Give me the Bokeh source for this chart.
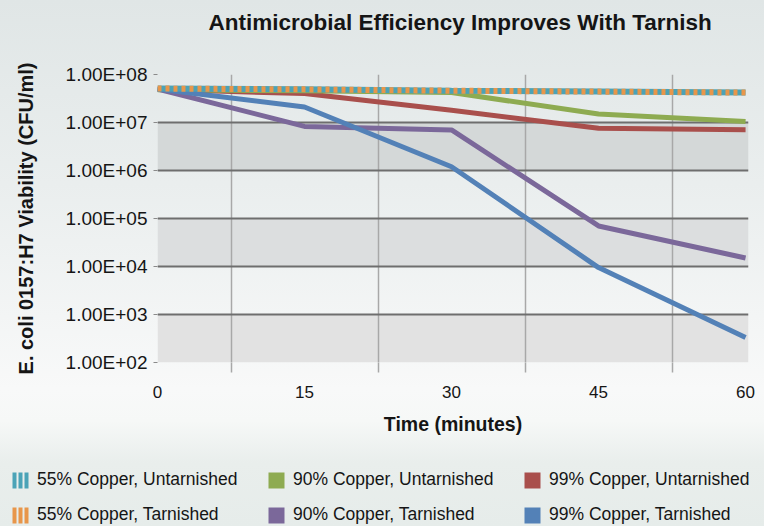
from bokeh.plotting import figure
from bokeh.layouts import column
from bokeh.models import (Range1d, FixedTicker, BoxAnnotation, Legend, LegendItem,
                          InlineStyleSheet)
from bokeh.embed import file_html
from bokeh.resources import INLINE

# ---------------- data ----------------
time_min = [0, 15, 30, 45, 60]
x_grid_positions = [7.5, 22.5, 37.5, 52.5]
y_ticks = [1e2, 1e3, 1e4, 1e5, 1e6, 1e7, 1e8]
y_tick_labels = ["1.00E+02", "1.00E+03", "1.00E+04", "1.00E+05",
                 "1.00E+06", "1.00E+07", "1.00E+08"]

cu55_untarnished = [5.1e7, 4.9e7, 4.6e7, 4.4e7, 4.2e7]
cu55_tarnished = [5.1e7, 4.9e7, 4.6e7, 4.4e7, 4.2e7]
cu90_untarnished = [4.8e7, 4.6e7, 4.2e7, 1.5e7, 1.05e7]
cu99_untarnished = [4.9e7, 4.0e7, 1.8e7, 7.6e6, 7.1e6]
cu90_tarnished = [5.0e7, 8.3e6, 7.0e6, 7.0e4, 1.5e4]
cu99_tarnished = [5.0e7, 2.1e7, 1.2e6, 9.5e3, 3.3e2]

labels = {
    "55u": "55% Copper, Untarnished",
    "90u": "90% Copper, Untarnished",
    "99u": "99% Copper, Untarnished",
    "55t": "55% Copper, Tarnished",
    "90t": "90% Copper, Tarnished",
    "99t": "99% Copper, Tarnished",
}
title_text = "Antimicrobial Efficiency Improves With Tarnish"

# ---------------- style ----------------
TEAL = "#4ba3b7"
ORANGE = "#e8964a"
GREEN = "#8eab51"
RED = "#a94f4c"
PURPLE = "#7b689a"
BLUE = "#5381b7"
FONT = "Liberation Sans"
TEXT = "#151515"

def bare(fig):
    fig.frame_align = False
    fig.background_fill_color = None
    fig.border_fill_color = None
    fig.outline_line_color = None
    return fig

# ---------------- title strip ----------------
tf = bare(figure(width=764, height=40, x_range=Range1d(0, 1), y_range=Range1d(0, 1),
                 output_backend="svg", toolbar_location=None,
                 x_axis_location=None, y_axis_location=None,
                 min_border_left=0, min_border_right=0, min_border_bottom=0,
                 min_border_top=36))
tf.grid.visible = False
tf.title.text = title_text
tf.title.align = "left"
tf.title.offset = 208
tf.title.vertical_align = "top"
tf.title.standoff = 0
tf.title.text_font = FONT
tf.title.text_font_size = "22.5px"
tf.title.text_font_style = "bold"
tf.title.text_color = TEXT

# ---------------- main chart ----------------
p = bare(figure(width=764, height=412,
                x_range=Range1d(0, 60.3), y_range=Range1d(1e2, 1e8),
                y_axis_type="log",
                output_backend="svg", toolbar_location=None,
                min_border_left=157, min_border_right=16,
                min_border_top=34, min_border_bottom=90))

# bands (alternating shaded decades)
band_colors = ["#e2e2e2", "#dcdedf", "#d4d8d8"]
for lo, hi, c in zip(y_ticks[0::2], y_ticks[1::2], band_colors):
    p.add_layout(BoxAnnotation(bottom=lo, top=hi, fill_color=c, fill_alpha=1,
                               line_color=None, level="image"))

# x axis
xa = p.below[0]
xa.ticker = FixedTicker(ticks=time_min, minor_ticks=x_grid_positions)
xa.axis_line_color = None
xa.major_tick_line_color = None
xa.major_tick_out = 0
xa.major_tick_in = 0
xa.minor_tick_out = 10
xa.minor_tick_in = 0
xa.minor_tick_line_color = "#a8a8a8"
xa.minor_tick_line_width = 1.5
xa.major_label_text_font = FONT
xa.major_label_text_font_size = "17px"
xa.major_label_text_color = TEXT
xa.major_label_standoff = 13
xa.axis_label = "Time (minutes)"
xa.axis_label_text_font = FONT
xa.axis_label_text_font_size = "19.5px"
xa.axis_label_text_font_style = "bold"
xa.axis_label_text_color = TEXT
xa.axis_label_standoff = 12

p.xgrid.grid_line_color = None
p.xgrid.minor_grid_line_color = "#a8a8a8"
p.xgrid.minor_grid_line_width = 1.5

# y axis
ya = p.left[0]
ya.ticker = FixedTicker(ticks=y_ticks, minor_ticks=[])
ya.major_label_overrides = {float(v): s for v, s in zip(y_ticks, y_tick_labels)}
ya.axis_line_color = None
ya.major_tick_out = 4
ya.major_tick_in = 0
ya.major_tick_line_color = "#8a8a8a"
ya.minor_tick_line_color = None
ya.major_label_text_font = FONT
ya.major_label_text_font_size = "19px"
ya.major_label_text_color = TEXT
ya.major_label_standoff = 6
ya.axis_label = "E. coli 0157:H7 Viability (CFU/ml)"
ya.axis_label_text_font = FONT
ya.axis_label_text_font_size = "20px"
ya.axis_label_text_font_style = "bold"
ya.axis_label_text_color = TEXT
ya.axis_label_standoff = 26

p.ygrid.grid_line_color = "#6e6e6e"
p.ygrid.grid_line_width = 2
p.ygrid.minor_grid_line_color = None

# series
LW = 5
p.line(time_min, cu99_untarnished, line_color=RED, line_width=LW)
p.line(time_min, cu90_untarnished, line_color=GREEN, line_width=LW)
p.line(time_min, cu90_tarnished, line_color=PURPLE, line_width=LW)
p.line(time_min, cu99_tarnished, line_color=BLUE, line_width=LW)
p.line(time_min, cu55_untarnished, line_color=TEAL, line_width=LW + 1)
p.line(time_min, cu55_tarnished, line_color=ORANGE, line_width=LW + 1, line_dash="4 4")

# ---------------- legend strip ----------------
# its ranges lie away from the data, so only the legend swatches are seen
lf = bare(figure(width=764, height=74, x_range=Range1d(-2, -1), y_range=Range1d(-2, -1),
                 output_backend="svg", toolbar_location=None,
                 x_axis_location=None, y_axis_location=None, min_border=0))
lf.grid.visible = False

def stripe(series, color):
    return lf.line(time_min, series, line_color=color, line_width=16,
                   line_dash="4 2", line_dash_offset=4)

def square(series, color):
    return lf.vbar(x=time_min, top=series, width=1, fill_color=color,
                   line_color=None)

items = [
    LegendItem(label=labels["55u"], renderers=[stripe(cu55_untarnished, TEAL)]),
    LegendItem(label=labels["90u"], renderers=[square(cu90_untarnished, GREEN)]),
    LegendItem(label=labels["99u"], renderers=[square(cu99_untarnished, RED)]),
    LegendItem(label=labels["55t"], renderers=[stripe(cu55_tarnished, ORANGE)]),
    LegendItem(label=labels["90t"], renderers=[square(cu90_tarnished, PURPLE)]),
    LegendItem(label=labels["99t"], renderers=[square(cu99_tarnished, BLUE)]),
]
legend = Legend(items=items, location=(10, 1), orientation="horizontal",
                ncols=3, glyph_width=20, glyph_height=20, label_standoff=7,
                label_width=215, label_height=20, spacing=14, padding=0,
                margin=0, border_line_color=None, background_fill_alpha=0,
                label_text_font=FONT, label_text_font_size="17.5px",
                label_text_color=TEXT)
lf.add_layout(legend, "center")

layout = column(tf, p, lf, spacing=0)
layout.stylesheets.append(InlineStyleSheet(css=""":host {
  background: linear-gradient(180deg, #e0e6e6 0%, #eaeeee 35%, #f3f5f5 60%,
              #f8f9f9 74%, #f6f8f7 80%, #e9eeec 88%, #e6ecea 100%);
}"""))

open("out.html", "w").write(file_html(layout, INLINE))
